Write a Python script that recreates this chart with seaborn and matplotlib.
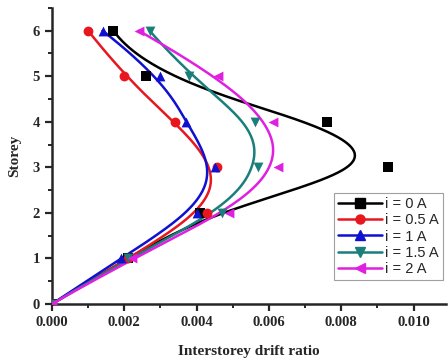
import numpy as np
import pandas as pd
import seaborn as sns
import matplotlib.pyplot as plt
from matplotlib.lines import Line2D
from matplotlib.ticker import MultipleLocator, FormatStrFormatter

storeys = [0, 1, 2, 3, 4, 5, 6]
drift_0A = [0.0, 0.0021, 0.0041, 0.0093, 0.0076, 0.0026, 0.0017]
drift_05A = [0.0, 0.0021, 0.0043, 0.00457, 0.0034, 0.0020, 0.0010]
drift_1A = [0.0, 0.0019, 0.0040, 0.0045, 0.0037, 0.0030, 0.0014]
drift_15A = [0.0, 0.0021, 0.0047, 0.0057, 0.0056, 0.0038, 0.0027]
drift_2A = [0.0, 0.0022, 0.0049, 0.00625, 0.0061, 0.0046, 0.0024]

labels = ["i = 0 A", "i = 0.5 A", "i = 1 A", "i = 1.5 A", "i = 2 A"]
colors = ["black", "#e8171f", "#1010d0", "#1a7f7a", "#e020e0"]
markers = ["s", "o", "^", "v", "<"]


def bspline(px, py, n_out=300, k=3):
    # clamped uniform B-spline using the data points as control points
    P = np.column_stack([px, py]).astype(float)
    n = len(P)
    inner = np.arange(1, n - k)
    knots = np.concatenate([np.zeros(k + 1), inner, np.full(k + 1, n - k)])
    u = np.linspace(0, n - k, n_out)
    u[-1] -= 1e-9
    N = np.zeros((n_out, len(knots) - 1))
    for i in range(len(knots) - 1):
        N[:, i] = (knots[i] <= u) & (u < knots[i + 1])
    for d in range(1, k + 1):
        Nn = np.zeros((n_out, len(knots) - 1 - d))
        for i in range(len(knots) - 1 - d):
            a = knots[i + d] - knots[i]
            b = knots[i + d + 1] - knots[i + 1]
            t1 = (u - knots[i]) / a * N[:, i] if a > 0 else 0
            t2 = (knots[i + d + 1] - u) / b * N[:, i + 1] if b > 0 else 0
            Nn[:, i] = t1 + t2
        N = Nn
    C = N @ P
    return C[:, 0], C[:, 1]


sns.set_style("ticks")
plt.rcParams["font.family"] = ["Liberation Serif", "DejaVu Serif"]

fig = plt.figure(figsize=(4.48, 3.61), dpi=100)
ax = fig.add_axes([0.116, 0.158, 0.88, 0.82])

series = [drift_0A, drift_05A, drift_1A, drift_15A, drift_2A]
for k, drift in enumerate(series):
    xx, yy = bspline(drift, storeys)
    curve = pd.DataFrame({"drift": xx, "storey": yy})
    sns.lineplot(data=curve, x="drift", y="storey", sort=False, orient="y",
                 color=colors[k], lw=1.8, ax=ax)
    pts = pd.DataFrame({"drift": drift, "storey": storeys})
    sns.scatterplot(data=pts, x="drift", y="storey", marker=markers[k],
                    color=colors[k], s=50, edgecolor=colors[k], linewidth=0,
                    ax=ax, zorder=3)

ax.set_xlim(0, 0.0109)
ax.set_ylim(0, 6.5)
ax.xaxis.set_major_locator(MultipleLocator(0.002))
ax.xaxis.set_minor_locator(MultipleLocator(0.001))
ax.yaxis.set_major_locator(MultipleLocator(1))
ax.yaxis.set_minor_locator(MultipleLocator(0.5))
ax.xaxis.set_major_formatter(FormatStrFormatter("%.3f"))
ax.tick_params(which="major", direction="out", length=5, width=1.6,
               labelsize=10.5)
ax.tick_params(which="minor", direction="out", length=3, width=1.4)
for lab in ax.get_xticklabels() + ax.get_yticklabels():
    lab.set_fontweight("bold")
for s in ["left", "bottom"]:
    ax.spines[s].set_linewidth(1.8)
sns.despine(ax=ax)

ax.set_xlabel("Interstorey drift ratio", fontsize=11, fontweight="bold",
              labelpad=12)
ax.set_ylabel("Storey", fontsize=11, fontweight="bold", labelpad=8)

handles = [Line2D([0], [0], color=c, marker=m, lw=1.8, markersize=6.5)
           for c, m in zip(colors, markers)]
leg = ax.legend(handles, labels, loc="lower right", bbox_to_anchor=(1.0, 0.07),
                frameon=True, fancybox=False, edgecolor="#888888",
                prop={"family": "Liberation Sans", "size": 10.5},
                handlelength=3, handletextpad=0.2, labelspacing=0.15,
                borderpad=0.3, borderaxespad=0.2)
leg.get_frame().set_linewidth(0.8)

fig.savefig("out.png", dpi=100)
